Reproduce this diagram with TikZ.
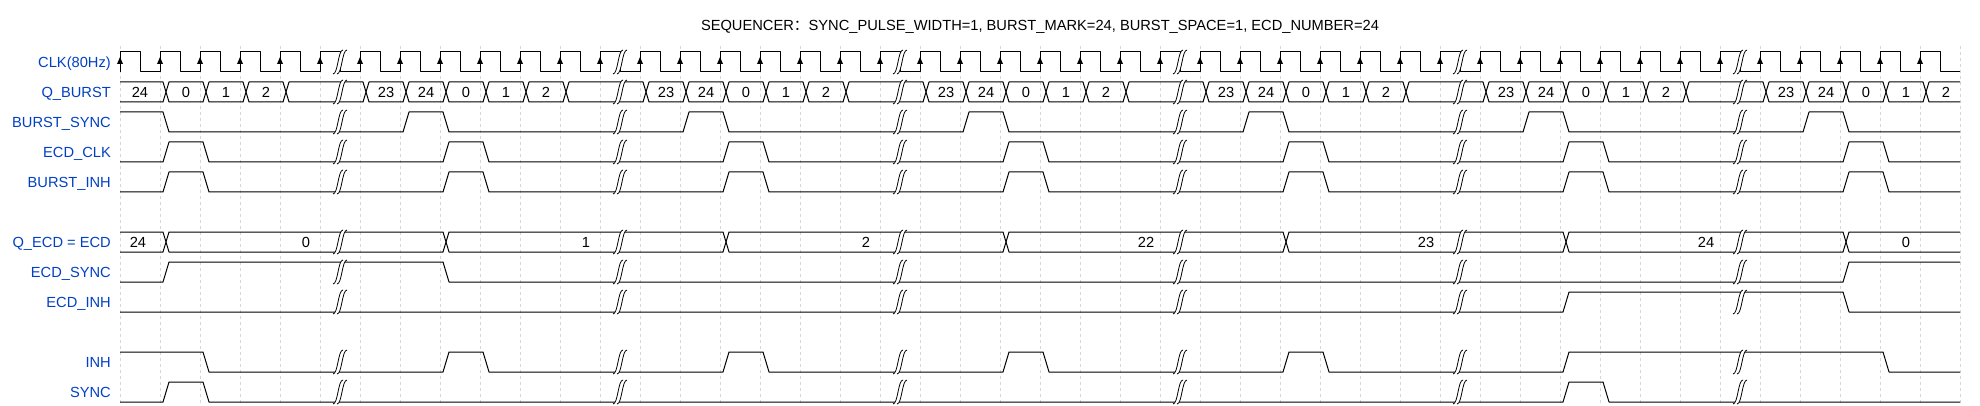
\documentclass[tikz,border=0pt]{standalone}
\usepackage{fontspec}
\setmainfont{Liberation Sans}
\newfontfamily\cjk{Noto Sans CJK SC}
\usepackage{xcolor}
\usepackage{tikz}

\definecolor{labelblue}{HTML}{0041C4}
\tikzset{
	wave/.style={line width=1pt, line join=round},
	gridline/.style={draw=gray!32, line width=0.7pt, dash pattern=on 3pt off 3pt},
	signame/.style={anchor=base east, inner sep=0pt, text=labelblue, font=\fontsize{14.67}{17}\selectfont},
	busval/.style={anchor=base, inner sep=0pt, font=\fontsize{14.67}{17}\selectfont},
}
% transitions of the two buses
\def\qbursttr{160,200,240,280,360,400,440,480,520,560,640,680,720,760,800,840,920,960,1000,1040,1080,1120,1200,1240,1280,1320,1360,1400,1480,1520,1560,1600,1640,1680,1760,1800,1840,1880,1920}
\def\qecdtr{160,440,720,1000,1280,1560,1840}

\begin{document}
\begin{tikzpicture}[x=1pt, y=-1pt]
	\fill[white] (0,0) rectangle (1980,406);
	\useasboundingbox (0,0) rectangle (1980,406);
	% grid
	\foreach \k in {0,...,46}
		\draw[gridline] ({120+40*\k},46) -- ({120+40*\k},406);
	% title
	\node[busval] (title) at (1040,31) {SEQUENCER{\cjk ：}SYNC\_PULSE\_WIDTH=1, BURST\_MARK=24, BURST\_SPACE=1, ECD\_NUMBER=24};
	% signal names
	\foreach \T/\n/\txt in {52/clk/CLK(80Hz), 82/qburst/Q\_BURST, 112/burstsync/BURST\_SYNC, 142/ecdclk/ECD\_CLK, 172/burstinh/BURST\_INH, 232/qecd/Q\_ECD = ECD, 262/ecdsync/ECD\_SYNC, 292/ecdinh/ECD\_INH, 352/inh/INH, 382/sync/SYNC}
		\node[signame] (\n) at (111,\T+15.5) {\txt};

	% CLK
	\draw[wave] (120,72) \foreach \k in {0,...,45}{ -- ({120+40*\k},52) -- ({140+40*\k},52) -- ({140+40*\k},72) -- ({160+40*\k},72)};
	\foreach \k in {0,...,45}
		\fill ({120+40*\k},57) -- ({117+40*\k},64) -- ({123+40*\k},64) -- cycle;

	% Q_BURST
	\draw[wave] (120,82) \foreach \t in \qbursttr { -- (\t+3,82) -- (\t+6,92) -- (\t+9,82)} -- (1960,82);
	\draw[wave] (120,102) \foreach \t in \qbursttr { -- (\t+3,102) -- (\t+6,92) -- (\t+9,102)} -- (1960,102);
	\foreach \x/\v in {140/24, 186/0, 226/1, 266/2}
		\node[busval] (qb-0-\v) at (\x,97.5) {\v};
	\foreach \g in {340,620,...,1740}
		\foreach \x/\v in {46/23, 86/24, 126/0, 166/1, 206/2}
			\node[busval] (qb-\g-\v) at (\g+\x,97.5) {\v};

	% BURST_SYNC
	\draw[wave] (120,112) -- (163,112) -- (169,132)
		\foreach \a/\b in {400/440,680/720,960/1000,1240/1280,1520/1560,1800/1840}{ -- (\a+3,132) -- (\a+9,112) -- (\b+3,112) -- (\b+9,132)} -- (1960,132);
	% ECD_CLK
	\draw[wave] (120,162)
		\foreach \a/\b in {160/200,440/480,720/760,1000/1040,1280/1320,1560/1600,1840/1880}{ -- (\a+3,162) -- (\a+9,142) -- (\b+3,142) -- (\b+9,162)} -- (1960,162);
	% BURST_INH
	\draw[wave] (120,192)
		\foreach \a/\b in {160/200,440/480,720/760,1000/1040,1280/1320,1560/1600,1840/1880}{ -- (\a+3,192) -- (\a+9,172) -- (\b+3,172) -- (\b+9,192)} -- (1960,192);

	% Q_ECD
	\draw[wave] (120,232) \foreach \t in \qecdtr { -- (\t+3,232) -- (\t+6,242) -- (\t+9,232)} -- (1960,232);
	\draw[wave] (120,252) \foreach \t in \qecdtr { -- (\t+3,252) -- (\t+6,242) -- (\t+9,252)} -- (1960,252);
	\foreach \x/\v/\n in {138/24/a, 306/0/b, 586/1/c, 866/2/d, 1146/22/e, 1426/23/f, 1706/24/g, 1906/0/h}
		\node[busval] (qe-\n) at (\x,247.5) {\v};

	% ECD_SYNC
	\draw[wave] (120,282) -- (163,282) -- (169,262) -- (443,262) -- (449,282) -- (1843,282) -- (1849,262) -- (1960,262);
	% ECD_INH
	\draw[wave] (120,312) -- (1563,312) -- (1569,292) -- (1843,292) -- (1849,312) -- (1960,312);

	% INH
	\draw[wave] (120,352) -- (203,352) -- (209,372)
		\foreach \a/\b in {440/480,720/760,1000/1040,1280/1320,1560/1880}{ -- (\a+3,372) -- (\a+9,352) -- (\b+3,352) -- (\b+9,372)} -- (1960,372);
	% SYNC
	\draw[wave] (120,402)
		\foreach \a/\b in {160/200,1560/1600}{ -- (\a+3,402) -- (\a+9,382) -- (\b+3,382) -- (\b+9,402)} -- (1960,402);

	% gaps
	\foreach \T in {52,82,112,142,172,232,262,292,352,382}
		\foreach \g in {340,620,...,1740}{
			\fill[white] (\g+7,\T-2) -- (\g+3,\T-2) .. controls (\g-2,\T-2) and (\g-2,\T+22) .. (\g-7,\T+22)
				-- (\g-3,\T+22) .. controls (\g+2,\T+22) and (\g+2,\T-2) .. (\g+7,\T-2) -- cycle;
			\draw[line width=0.8pt] (\g-7,\T+22) .. controls (\g-2,\T+22) and (\g-2,\T-2) .. (\g+3,\T-2);
			\draw[line width=0.8pt] (\g-3,\T+22) .. controls (\g+2,\T+22) and (\g+2,\T-2) .. (\g+7,\T-2);
		}
\end{tikzpicture}
\end{document}
